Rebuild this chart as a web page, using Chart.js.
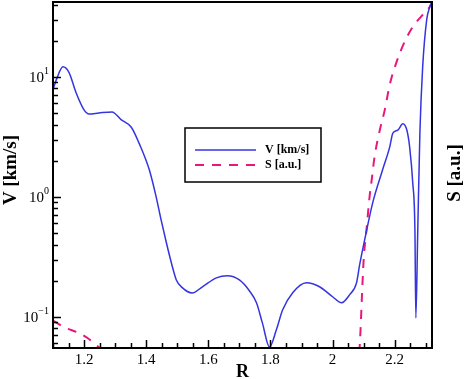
<!DOCTYPE html>
<html>
<head>
<meta charset="utf-8">
<script src="https://cdn.jsdelivr.net/npm/chart.js@4/dist/chart.umd.min.js"></script>
<style>
html,body{margin:0;padding:0;background:#fff;}
</style>
</head>
<body>
<canvas id="vsChart" width="466" height="379"></canvas>
<script>

// ============================== data ==============================

const rV = [1.10, 1.113, 1.132, 1.152, 1.174, 1.20, 1.216, 1.248, 1.29, 1.319, 1.352, 1.377, 1.41, 1.432,
1.448, 1.465, 1.481, 1.497, 1.516, 1.548, 1.581, 1.626, 1.661, 1.70, 1.732, 1.755, 1.774, 1.797,
1.819, 1.839, 1.871, 1.916, 1.958, 2.00, 2.029, 2.055, 2.077, 2.087, 2.11, 2.129, 2.161, 2.184,
2.194, 2.21, 2.226, 2.239, 2.248, 2.258, 2.265, 2.268, 2.274, 2.281, 2.29, 2.303, 2.313, 2.319];

const vKms = [7.8, 9.8, 12.1, 10.8, 7.4, 5.3, 4.9, 5.0, 5.1, 4.4, 3.8, 2.8, 1.68, 1.0,
0.643, 0.414, 0.282, 0.203, 0.175, 0.158, 0.178, 0.211, 0.22, 0.203, 0.165, 0.131, 0.089, 0.056,
0.078, 0.114, 0.158, 0.192, 0.178, 0.147, 0.131, 0.153, 0.192, 0.271, 0.531, 0.891, 1.68, 2.61,
3.4, 3.6, 4.06, 3.6, 2.61, 1.31, 0.531, 0.098, 0.5, 3.4, 12.1, 29.9, 38.3, 41.4];

// S has a gap (null) between the two visible pieces
const rS = [1.10, 1.14, 1.18, 1.21, 1.24, 1.28, 1.70, 2.086, 2.09, 2.094, 2.10, 2.11, 2.119, 2.126,
2.135, 2.152, 2.168, 2.184, 2.206, 2.232, 2.258, 2.287, 2.313, 2.319];

const sAu = [0.093, 0.081, 0.074, 0.067, 0.058, 0.048, null, 0.05, 0.078, 0.139, 0.299, 0.562, 1.0, 1.39,
2.15, 3.6, 5.3, 8.6, 13.3, 19.6, 26.1, 32.2, 38.3, 41];

const xTickLabels = [1.2, 1.4, 1.6, 1.8, 2, 2.2];
const yDecades = [-1, 0, 1];

const xMin = 1.1, xMax = 2.32;
const yMin = 0.055, yMax = 42;

const serif = "'Liberation Serif', 'Times New Roman', serif";


// ============================== ticks, labels, frame, legend ==============================

const tecplotLook = {
id: "tecplotLook",
afterDraw(chart){

const ctx = chart.ctx;
const a = chart.chartArea;
const xs = chart.scales.x;
const ys = chart.scales.y;

ctx.save();
ctx.strokeStyle = "#000";
ctx.fillStyle = "#000";

// inward tick marks on the bottom axis, every 0.05
ctx.lineWidth = 1.5;
for(let i = 22; i <= 46; i++){
const px = Math.round(xs.getPixelForValue(i * 0.05)) + 0.5;
const len = (i % 4 === 0) ? 8 : 5;
ctx.beginPath();
ctx.moveTo(px, a.bottom);
ctx.lineTo(px, a.bottom - len);
ctx.stroke();
}

// inward tick marks on the left log axis
for(let e = -2; e <= 1; e++){
for(let m = 1; m <= 9; m++){
const v = m * Math.pow(10, e);
if(v < yMin || v > yMax) continue;
const py = Math.round(ys.getPixelForValue(v)) + 0.5;
const len = (m === 1) ? 8 : 5;
ctx.beginPath();
ctx.moveTo(a.left, py);
ctx.lineTo(a.left + len, py);
ctx.stroke();
}
}

// x labels
ctx.textBaseline = "middle";
ctx.textAlign = "center";
ctx.font = "15px " + serif;
xTickLabels.forEach(v => {
ctx.fillText(String(v), xs.getPixelForValue(v), a.bottom + 12);
});

// decade labels 10^n
ctx.textAlign = "left";
yDecades.forEach(e => {
const py = ys.getPixelForValue(Math.pow(10, e));
const sup = e < 0 ? "\u2212" + (-e) : String(e);
ctx.font = "15px " + serif;
const w = ctx.measureText("10").width;
ctx.font = "10px " + serif;
const s = ctx.measureText(sup).width;
const x0 = a.left - 4 - w - s;
ctx.font = "15px " + serif;
ctx.fillText("10", x0, py + 1);
ctx.font = "10px " + serif;
ctx.fillText(sup, x0 + w, py - 5);
});

// frame
ctx.lineWidth = 2;
ctx.strokeRect(a.left, a.top, a.right - a.left, a.bottom - a.top);

// axis titles
ctx.textAlign = "center";
ctx.font = "bold 18px " + serif;
ctx.fillText("R", (a.left + a.right) / 2, a.bottom + 24);

ctx.font = "bold 19px " + serif;
ctx.save();
ctx.translate(11, 170);
ctx.rotate(-Math.PI / 2);
ctx.fillText("V [km/s]", 0, 0);
ctx.restore();

ctx.save();
ctx.translate(455, 173);
ctx.rotate(-Math.PI / 2);
ctx.fillText("S [a.u.]", 0, 0);
ctx.restore();

// legend box
const lx = 185, ly = 128, lw = 136, lh = 54;
ctx.fillStyle = "#fff";
ctx.fillRect(lx, ly, lw, lh);
ctx.lineWidth = 1.5;
ctx.strokeStyle = "#000";
ctx.strokeRect(lx, ly, lw, lh);

chart.data.datasets.forEach((ds, i) => {
const yy = ly + 22 + i * 15;
ctx.strokeStyle = ds.borderColor;
ctx.lineWidth = ds.borderWidth;
ctx.setLineDash(ds.borderDash || []);
ctx.beginPath();
ctx.moveTo(lx + 10, yy);
ctx.lineTo(lx + 71, yy);
ctx.stroke();
ctx.setLineDash([]);
ctx.fillStyle = "#000";
ctx.font = "bold 12px " + serif;
ctx.textAlign = "left";
ctx.fillText(ds.label, lx + 80, yy);
});

ctx.restore();

}
};


// ============================== chart ==============================

const ctxV = document.getElementById("vsChart");

new Chart(ctxV, {

type: "line",

data: {
datasets: [{
label: "V [km/s]",
data: rV.map((r, i) => ({ x: r, y: vKms[i] })),
borderColor: "#3434e0",
borderWidth: 1.5,
pointRadius: 0,
cubicInterpolationMode: "monotone",
yAxisID: "y"
},{
label: "S [a.u.]",
data: rS.map((r, i) => ({ x: r, y: sAu[i] })),
borderColor: "#e8177c",
borderWidth: 2,
borderDash: [9, 8],
pointRadius: 0,
spanGaps: false,
cubicInterpolationMode: "monotone",
yAxisID: "y2"
}]
},

options: {
responsive: false,
animation: false,
devicePixelRatio: 1,
layout: { padding: { top: 2, left: 0, right: 0, bottom: 0 } },
plugins: {
legend: { display: false },
tooltip: { enabled: false }
},
scales: {
x: {
type: "linear",
min: xMin,
max: xMax,
grid: { display: false },
border: { display: false },
ticks: { display: false },
afterFit: s => { s.height = 31; }
},
y: {
type: "logarithmic",
position: "left",
min: yMin,
max: yMax,
grid: { display: false },
border: { display: false },
ticks: { display: false },
afterFit: s => { s.width = 53; }
},
y2: {
type: "logarithmic",
position: "right",
min: yMin,
max: yMax,
grid: { display: false },
border: { display: false },
ticks: { display: false },
afterFit: s => { s.width = 34; }
}
}
},

plugins: [tecplotLook]

});

</script>
</body>
</html>
